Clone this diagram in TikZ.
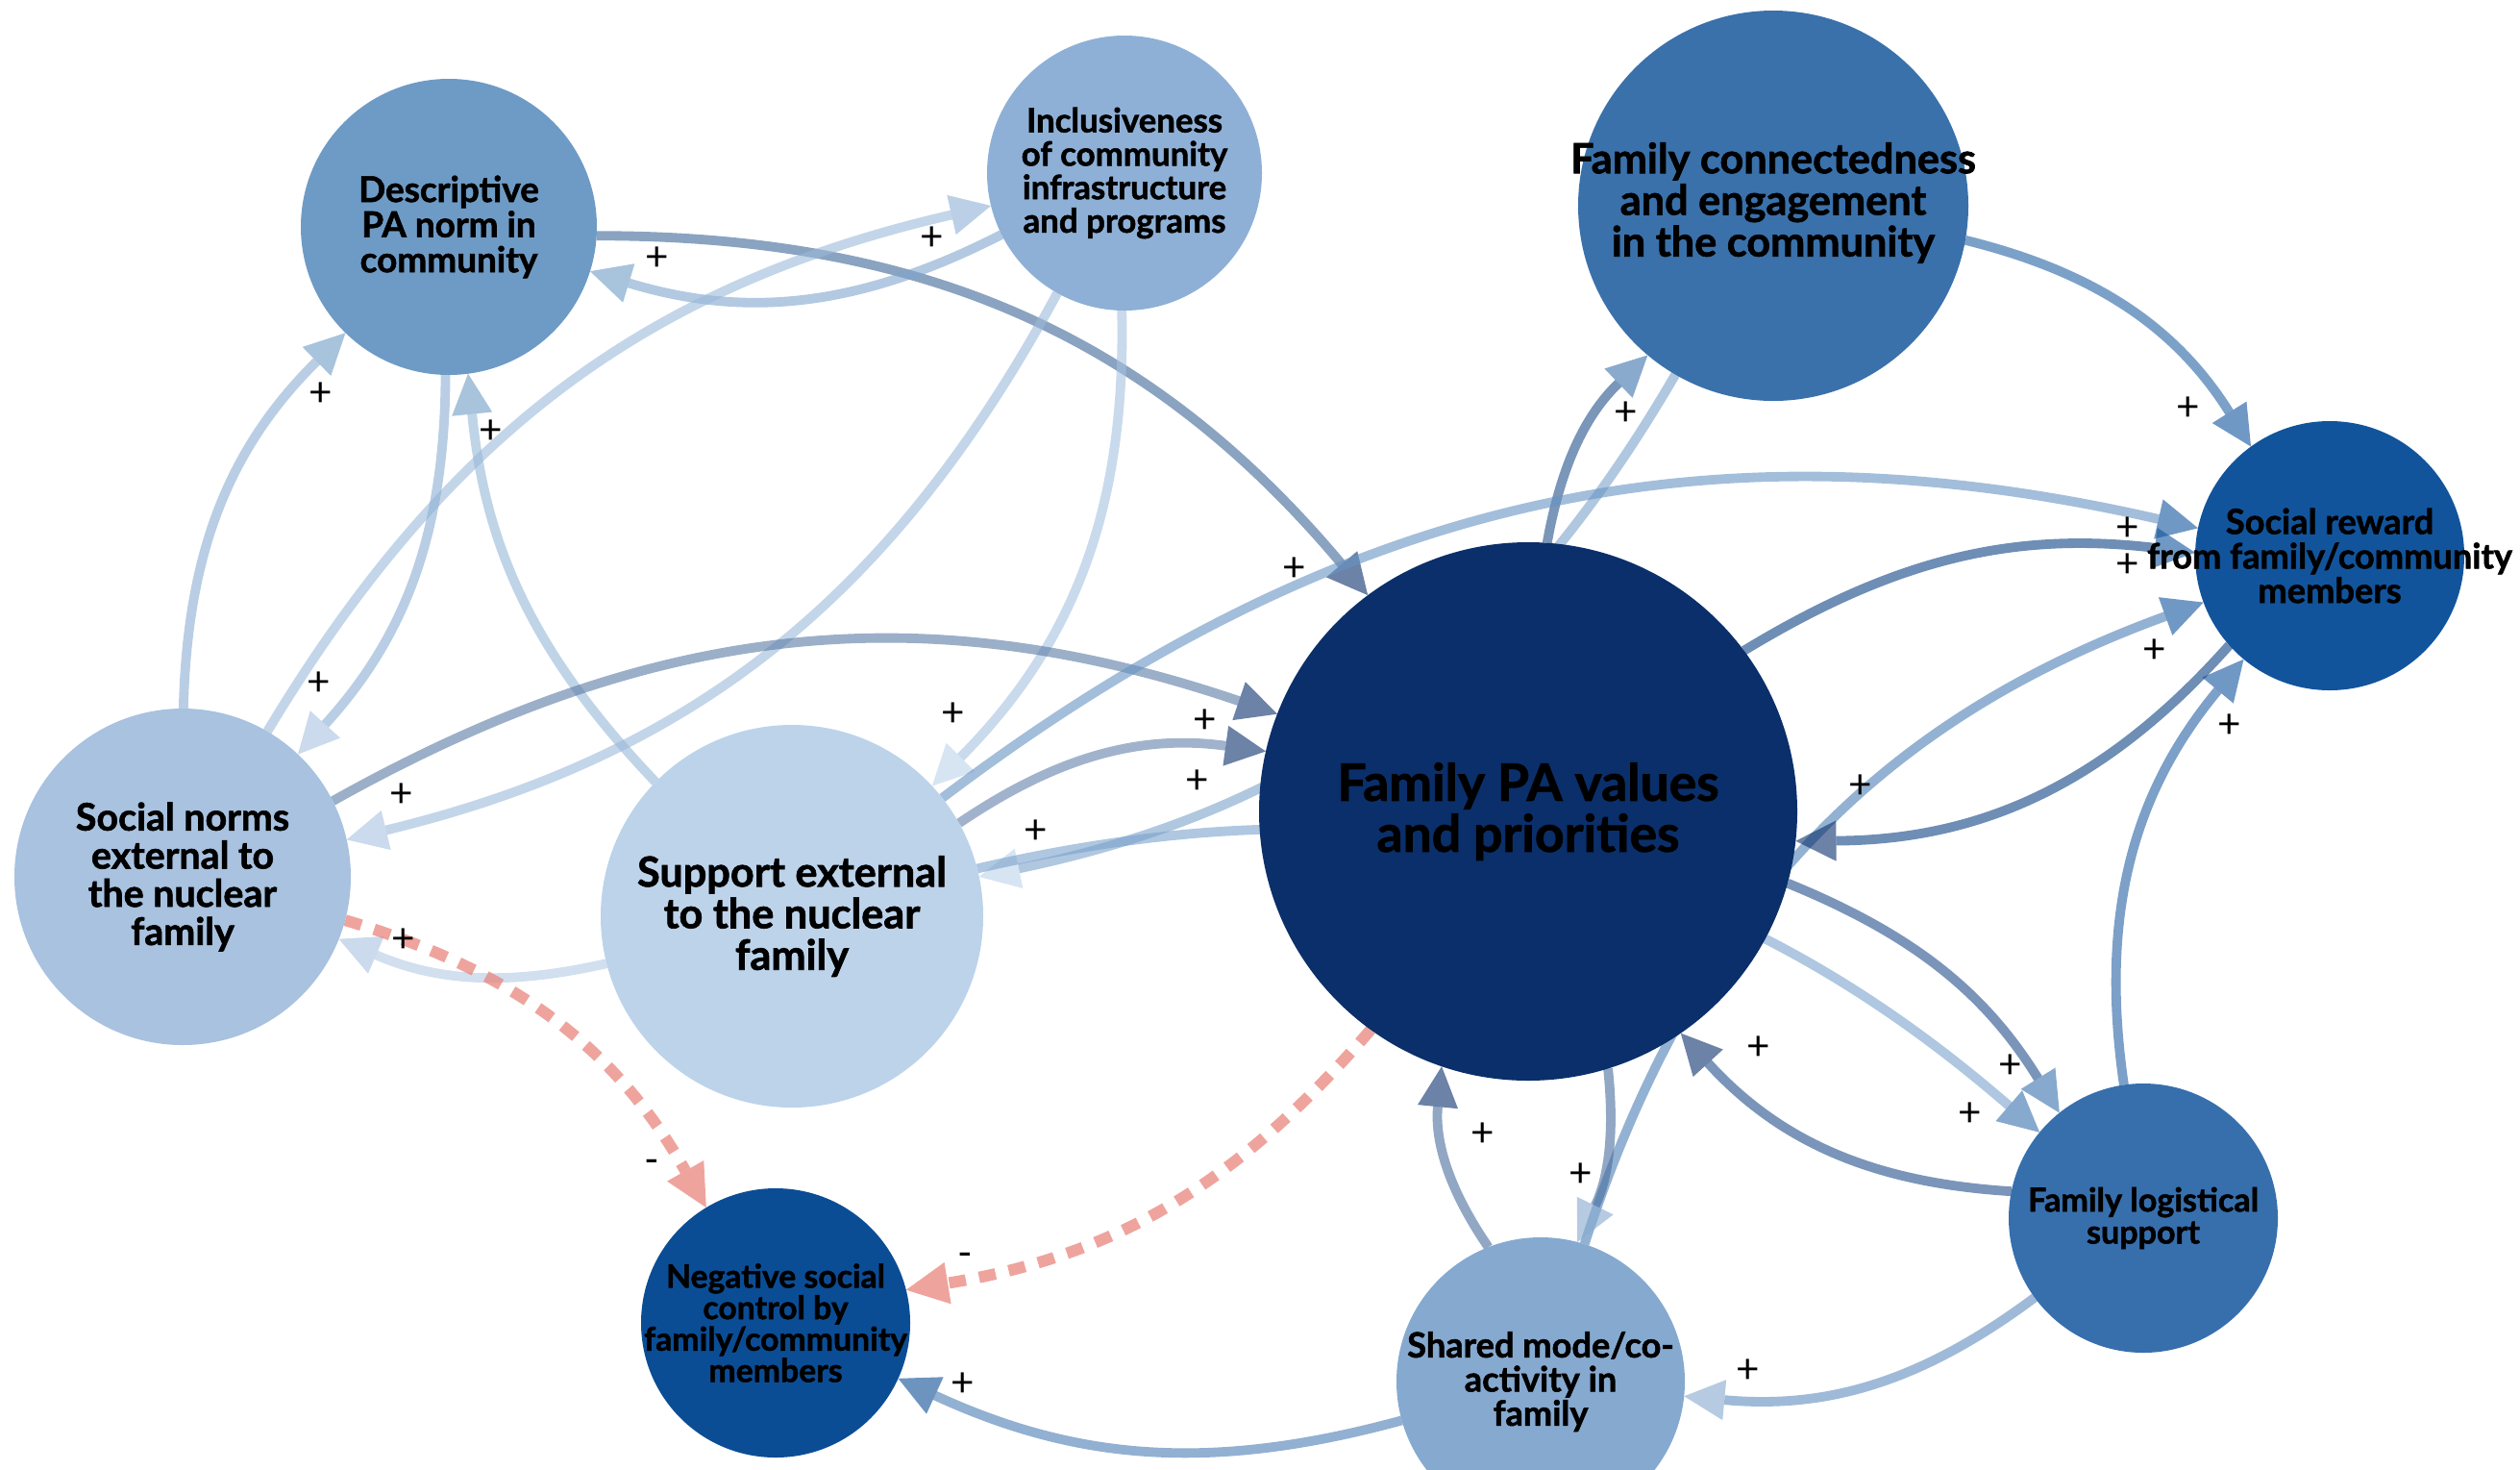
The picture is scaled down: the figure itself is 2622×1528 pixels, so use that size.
\documentclass[tikz,border=0pt]{standalone}
\usepackage{fontspec}
\setmainfont{Lato}[BoldFeatures={FakeBold=1.5}]
\usepackage{tikz}
\usetikzlibrary{arrows.meta}
\usetikzlibrary{positioning}
\definecolor{cdesc}{HTML}{6E9BC5}
\definecolor{cincl}{HTML}{8EB0D6}
\definecolor{cconn}{HTML}{3A71AB}
\definecolor{creward}{HTML}{11549C}
\definecolor{cfpa}{HTML}{0A2F6A}
\definecolor{cnorms}{HTML}{A8C2DF}
\definecolor{csupport}{HTML}{BCD3EA}
\definecolor{cneg}{HTML}{0B4D95}
\definecolor{cshared}{HTML}{86A9CF}
\definecolor{clogi}{HTML}{376FAD}
\definecolor{cred}{HTML}{E8867C}
\pgfdeclarelayer{back}
\pgfsetlayers{back,main}
\tikzset{
	% circles of the loop diagram; their text is a node of its own
    factor/.style 2 args={circle, fill=#1, minimum size=#2, inner sep=0pt, outer sep=0pt},
    caption/.style={inner sep=0pt, align=center, text=black},
    link/.style 2 args={draw=#1!50!#2, line width=2.8pt, opacity=0.6,
        -{Triangle[length=12pt,width=12pt,line width=0pt,color=#2]}},
    neglink/.style={draw=cred, line width=3.4pt, opacity=0.75,
        dash pattern=on 5pt off 4pt, -{Triangle[length=12.5pt,width=12.5pt,line width=0pt]}},
    sign/.style={inner sep=0pt, font=\fontsize{12}{12}\selectfont},
}
\begin{document}
\begin{tikzpicture}[x=0.1mm, y=-0.1mm]
	\useasboundingbox (0,0) rectangle (2622,1528);
	\node[factor={cdesc}{30.8mm}] (desc) at (467,236) {};
	\node[factor={cincl}{28.6mm}] (incl) at (1170,180) {};
	\node[factor={cconn}{40.6mm}] (conn) at (1845,214) {};
	\node[factor={creward}{28mm}] (reward) at (2424,578) {};
	\node[factor={cfpa}{56mm}] (fpa) at (1590,844) {};
	\node[factor={cnorms}{35mm}] (norms) at (190,912) {};
	\node[factor={csupport}{39.8mm}] (support) at (824,953) {};
	\node[factor={cneg}{28mm}] (neg) at (807,1376) {};
	\node[factor={cshared}{30mm}] (shared) at (1603,1437) {};
	\node[factor={clogi}{28mm}] (logi) at (2230,1267) {};
	\node[caption, font=\fontsize{10.5}{10.4}\selectfont\bfseries] (desc-t) at (desc) {Descriptive\\PA norm in\\community};
	\node[caption, font=\fontsize{9.9}{9.9}\selectfont\bfseries] (incl-t) at (incl) {Inclusiveness\\of community\\infrastructure\\and programs};
	\node[caption, font=\fontsize{12.3}{12.3}\selectfont\bfseries] (conn-t) at (1845,211) {Family connectedness\\and engagement\\in the community};
	\node[caption, font=\fontsize{10.3}{10.2}\selectfont\bfseries] (reward-t) at (reward) {Social reward\\from family/community\\members};
	\node[caption, font=\fontsize{15.2}{15.1}\selectfont\bfseries] (fpa-t) at (fpa) {Family PA values\\and priorities};
	\node[caption, font=\fontsize{11.2}{11.3}\selectfont\bfseries] (norms-t) at (norms) {Social norms\\external to\\the nuclear\\family};
	\node[caption, font=\fontsize{12.3}{12.3}\selectfont\bfseries] (support-t) at (support) {Support external\\to the nuclear\\family};
	\node[caption, font=\fontsize{9.6}{9.3}\selectfont\bfseries] (neg-t) at (neg) {Negative social\\control by\\family/community\\members};
	\node[caption, font=\fontsize{10.3}{10.1}\selectfont\bfseries] (shared-t) at (shared) {Shared mode/co-\\activity in\\family};
	\node[caption, font=\fontsize{9.7}{9.5}\selectfont\bfseries] (logi-t) at (logi) {Family logistical\\support};
\begin{pgfonlayer}{back}
	\draw[link={cdesc}{cfpa}] (desc) to[bend left=25] (fpa);
	\draw[link={cincl}{cdesc}] (incl) to[bend left=22] (desc);
	\draw[link={cnorms}{cincl}] (norms) to[bend left=23] (incl);
	\draw[link={cdesc}{cnorms}] (desc) to[bend left=21] (norms);
	\draw[link={cnorms}{cdesc}] (norms) to[bend left=22] (desc);
	\draw[link={csupport}{cdesc}] (support) to[bend left=19] (desc);
	\draw[link={cincl}{cnorms}] (incl) to[bend left=24] (norms);
	\draw[link={cincl}{csupport}] (incl) to[bend left=23] (support);
	\draw[link={cnorms}{cfpa}] (norms) to[bend left=24] (fpa);
	\draw[link={csupport}{cfpa}] (support) to[bend left=21] (fpa);
	\draw[link={cconn}{csupport}] (conn) to[bend left=24] (support);
	\draw[link={csupport}{cnorms}] (support) to[bend left=18] (norms);
	\draw[neglink] (norms) to[bend left=22] (neg);
	\draw[neglink] (fpa) to[bend left=20] (neg);
	\draw[link={cshared}{cneg}] (shared) to[bend left=20] (neg);
	\draw[link={cfpa}{cconn}] (fpa) to[bend left=18] (conn);
	\draw[link={cconn}{creward}] (conn) to[bend left=22] (reward);
	\draw[link={csupport}{creward}] (support) to[bend left=25] (reward);
	\draw[link={cfpa}{creward}] (fpa) to[bend left=19] (reward);
	\draw[link={cshared}{creward}] (shared) to[bend left=26] (reward);
	\draw[link={clogi}{creward}] (logi) to[bend left=24] (reward);
	\draw[link={creward}{cfpa}] (reward) to[bend left=24] (fpa);
	\draw[link={clogi}{cfpa}] (logi) to[bend left=22] (fpa);
	\draw[link={cfpa}{clogi}] (fpa) to[bend left=18] (logi);
	\draw[link={csupport}{clogi}] (support) to[bend left=27] (logi);
	\draw[link={cshared}{cfpa}] (shared) to[bend left=20] (fpa);
	\draw[link={cfpa}{cshared}] (fpa) to[bend left=16] (shared);
	\draw[link={clogi}{cshared}] (logi) to[bend left=21] (shared);
\end{pgfonlayer}
	% polarity of each link
	\node[sign] (s1) at (1347,592) {+};
	\node[sign] (s2) at (684,269) {+};
	\node[sign] (s3) at (970,248) {+};
	\node[sign] (s4) at (334,410) {+};
	\node[sign] (s5) at (511,449) {+};
	\node[sign] (s6) at (332,711) {+};
	\node[sign] (s7) at (418,827) {+};
	\node[sign] (s8) at (992,743) {+};
	\node[sign] (s9) at (1254,750) {+};
	\node[sign] (s10) at (1246,813) {+};
	\node[sign] (s11) at (1078,865) {+};
	\node[sign] (s12) at (420,978) {+};
	\node[sign] (s13) at (678,1213) {-};
	\node[sign] (s14) at (1004,1310) {-};
	\node[sign] (s15) at (1002,1440) {+};
	\node[sign] (s16) at (1692,430) {+};
	\node[sign] (s17) at (2277,425) {+};
	\node[sign] (s18) at (2214,550) {+};
	\node[sign] (s19) at (2214,588) {+};
	\node[sign] (s20) at (2242,677) {+};
	\node[sign] (s21) at (2320,755) {+};
	\node[sign] (s22) at (1936,818) {+};
	\node[sign] (s23) at (1830,1090) {+};
	\node[sign] (s24) at (2092,1109) {+};
	\node[sign] (s25) at (2050,1159) {+};
	\node[sign] (s26) at (1543,1180) {+};
	\node[sign] (s27) at (1645,1222) {+};
	\node[sign] (s28) at (1819,1426) {+};
\end{tikzpicture}
\end{document}
